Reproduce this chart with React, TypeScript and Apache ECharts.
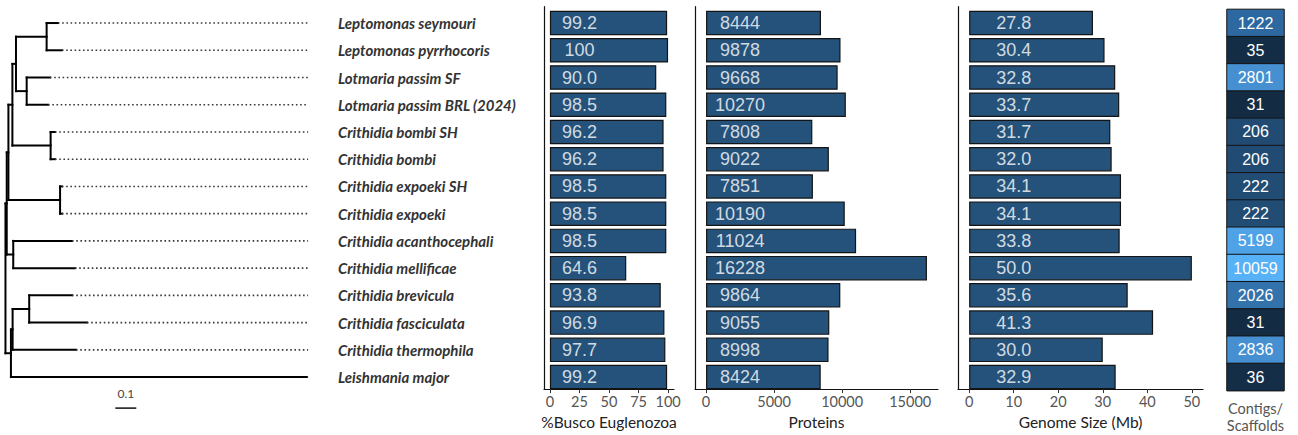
import React, { useEffect, useRef } from 'react';
import * as echarts from 'echarts';

// ---------- data ----------
const species = [
  'Leptomonas seymouri',
  'Leptomonas pyrrhocoris',
  'Lotmaria passim SF',
  'Lotmaria passim BRL (2024)',
  'Crithidia bombi SH',
  'Crithidia bombi',
  'Crithidia expoeki SH',
  'Crithidia expoeki',
  'Crithidia acanthocephali',
  'Crithidia mellificae',
  'Crithidia brevicula',
  'Crithidia fasciculata',
  'Crithidia thermophila',
  'Leishmania major',
];
const busco = [99.2, 100, 90.0, 98.5, 96.2, 96.2, 98.5, 98.5, 98.5, 64.6, 93.8, 96.9, 97.7, 99.2];
const proteins = [8444, 9878, 9668, 10270, 7808, 9022, 7851, 10190, 11024, 16228, 9864, 9055, 8998, 8424];
const genomeSize = [27.8, 30.4, 32.8, 33.7, 31.7, 32.0, 34.1, 34.1, 33.8, 50.0, 35.6, 41.3, 30.0, 32.9];
const contigs = [1222, 35, 2801, 31, 206, 206, 222, 222, 5199, 10059, 2026, 31, 2836, 36];

const buscoTicks = [0, 25, 50, 75, 100];
const proteinTicks = [0, 5000, 10000, 15000];
const genomeTicks = [0, 10, 20, 30, 40, 50];
const contigsLabel = 'Contigs/\nScaffolds';

// label anchor (x value where the in-bar numbers are centred)
const buscoLabelAt = 25;
const proteinLabelAt = 2500;
const genomeLabelAt = 10;

// colour scale for the contig tiles (position on log scale -> colour)
const contigColourStops: [number, string][] = [
  [0.0, '#132B43'],
  [0.33, '#214B72'],
  [0.64, '#2D69A0'],
  [0.73, '#3573AD'],
  [0.78, '#4690D2'],
  [0.89, '#4FA3E6'],
  [1.0, '#56B1F7'],
];

// phylogeny: tip depths (tip i sits on row i) and internal nodes [id, depth, childA, childB]
const tipDepth = [0.257, 0.276, 0.219, 0.210, 0.243, 0.243, 0.276, 0.276, 0.324, 0.338, 0.324, 0.395, 0.343, 1.443];
const treeNodes: [string, number, string, string][] = [
  ['A', 0.203, 't0', 't1'],
  ['B', 0.108, 't2', 't3'],
  ['C', 0.057, 'A', 'B'],
  ['D', 0.222, 't4', 't5'],
  ['E', 0.040, 'C', 'D'],
  ['F', 0.267, 't6', 't7'],
  ['G', 0.021, 'E', 'F'],
  ['H', 0.044, 't8', 't9'],
  ['I', 0.013, 'G', 'H'],
  ['J', 0.120, 't10', 't11'],
  ['K', 0.041, 'J', 't12'],
  ['L', 0.033, 'K', 't13'],
  ['root', 0.007, 'I', 'L'],
];
const tipLineEnd = 1.448;
const scaleBar = { start: 0.53, length: 0.1, label: '0.1' };

// ---------- helpers ----------
const ROW_MIN = -0.6;
const ROW_MAX = 13.6;
const AX_TOP = 6.7;
const AX_H = 386.7;
const ROW_PX = AX_H / (ROW_MAX - ROW_MIN);
const BAR_TOP = AX_TOP + (-0.5 - ROW_MIN) * ROW_PX;
const BAR_H = species.length * ROW_PX;

function hexToRgb(h: string) {
  const n = parseInt(h.slice(1), 16);
  return [(n >> 16) & 255, (n >> 8) & 255, n & 255];
}
function buildPalette(stops: [number, string][], n: number) {
  const out: string[] = [];
  for (let k = 0; k < n; k++) {
    const t = k / (n - 1);
    let j = 0;
    while (j < stops.length - 2 && t > stops[j + 1][0]) j++;
    const [t0, c0] = stops[j];
    const [t1, c1] = stops[j + 1];
    const f = Math.min(1, Math.max(0, (t - t0) / (t1 - t0)));
    const a = hexToRgb(c0);
    const b = hexToRgb(c1);
    const c = a.map((v, i) => Math.round(v + (b[i] - v) * f));
    out.push(`rgb(${c[0]},${c[1]},${c[2]})`);
  }
  return out;
}

function buildTreeSegments() {
  const pos: Record<string, { x: number; y: number }> = {};
  tipDepth.forEach((d, i) => (pos['t' + i] = { x: d, y: i }));
  const segs: number[][] = [];
  treeNodes.forEach(([id, depth, a, b]) => {
    const ca = pos[a];
    const cb = pos[b];
    pos[id] = { x: depth, y: (ca.y + cb.y) / 2 };
    segs.push([depth, ca.y, depth, cb.y, 0]);
    segs.push([depth, ca.y, ca.x, ca.y, 0]);
    segs.push([depth, cb.y, cb.x, cb.y, 0]);
  });
  tipDepth.forEach((d, i) => {
    if (d < tipLineEnd) segs.push([d, i, tipLineEnd, i, 1]);
  });
  return segs;
}

const FONT = 'Lato';

function panel(axesGrid: number, barGrid: number, min: number, max: number, ticks: number[], name: string) {
  return [
    {
      type: 'value',
      gridIndex: axesGrid,
      min,
      max,
      axisLine: { show: true, onZero: false, lineStyle: { color: '#111', width: 1.2 } },
      axisTick: { show: true, length: 4, customValues: ticks, lineStyle: { color: '#333', width: 1 } },
      axisLabel: {
        customValues: ticks,
        color: '#555',
        fontFamily: FONT,
        fontSize: 14.5,
        margin: 5,
        formatter: (v: number) => String(v),
      },
      splitLine: { show: false },
      name,
      nameLocation: 'middle',
      nameGap: 24,
      nameTextStyle: { color: '#222', fontFamily: FONT, fontSize: 15.5 },
    },
    { type: 'value', gridIndex: barGrid, min, max, show: false, splitLine: { show: false } },
  ];
}

export default function App() {
  const ref = useRef<HTMLDivElement>(null);
  useEffect(() => {
    document.body.style.margin = '0';
    if (!ref.current) return;
    const chart = echarts.init(ref.current, null, { renderer: 'svg' });

    const grids = [
      { left: 4, top: AX_TOP, width: 315, height: AX_H }, // 0 tree
      { left: 544, top: AX_TOP, width: 130, height: AX_H }, // 1 busco axes
      { left: 544, top: BAR_TOP, width: 130, height: BAR_H }, // 2 busco bars
      { left: 695, top: AX_TOP, width: 243, height: AX_H }, // 3 prot axes
      { left: 695, top: BAR_TOP, width: 243, height: BAR_H }, // 4 prot bars
      { left: 958, top: AX_TOP, width: 245, height: AX_H }, // 5 genome axes
      { left: 958, top: BAR_TOP, width: 245, height: BAR_H }, // 6 genome bars
      { left: 1227, top: BAR_TOP, width: 57, height: BAR_H }, // 7 heatmap
    ];

    const buscoMax = Math.max(...buscoTicks, ...busco);
    const protMax = Math.max(...proteins);
    const genMax = Math.max(...genomeSize);

    const xAxis: any[] = [
      { type: 'value', gridIndex: 0, min: 0, max: 1.5, show: false, splitLine: { show: false } },
      ...panel(1, 2, -0.05 * buscoMax, 1.05 * buscoMax, buscoTicks, '%Busco Euglenozoa'),
      ...panel(3, 4, -0.05 * protMax, 1.05 * protMax, proteinTicks, 'Proteins'),
      ...panel(5, 6, -0.05 * genMax, 1.05 * genMax, genomeTicks, 'Genome Size (Mb)'),
      {
        type: 'category',
        gridIndex: 7,
        data: [contigsLabel],
        axisLine: { show: false },
        axisTick: { show: false },
        axisLabel: { color: '#555', fontFamily: FONT, fontSize: 14.5, lineHeight: 17, margin: 9 },
      },
    ];

    const axesY = (g: number) => ({
      type: 'value',
      gridIndex: g,
      min: ROW_MIN,
      max: ROW_MAX,
      inverse: true,
      axisLine: { show: true, onZero: false, lineStyle: { color: '#111', width: 1.2 } },
      axisTick: { show: false },
      axisLabel: { show: false },
      splitLine: { show: false },
    });
    const barY = (g: number, labels: boolean) => ({
      type: 'category',
      gridIndex: g,
      data: species,
      inverse: true,
      axisLine: { show: false },
      axisTick: { show: false },
      axisLabel: labels
        ? {
            show: true,
            align: 'left',
            margin: 206,
            color: '#333',
            fontFamily: FONT,
            fontStyle: 'italic',
            fontWeight: 'bold',
            fontSize: 15,
          }
        : { show: false },
      splitLine: { show: false },
    });

    const yAxis: any[] = [
      { type: 'value', gridIndex: 0, min: ROW_MIN, max: ROW_MAX, inverse: true, show: false, splitLine: { show: false } },
      axesY(1),
      barY(2, true),
      axesY(3),
      barY(4, false),
      axesY(5),
      barY(6, false),
      {
        type: 'category',
        gridIndex: 7,
        data: species,
        inverse: true,
        axisLine: { show: false },
        axisTick: { show: false },
        axisLabel: { show: false },
      },
    ];

    const barStyle = { color: '#25527A', borderColor: '#141414', borderWidth: 1.2 };
    const barSeries = (axisIdx: number, values: number[]) => ({
      type: 'bar',
      xAxisIndex: axisIdx,
      yAxisIndex: axisIdx,
      data: values,
      barCategoryGap: '10%',
      itemStyle: barStyle,
      silent: true,
    });
    const labelSeries = (axisIdx: number, values: number[], at: number, fmt: (v: number) => string) => ({
      type: 'scatter',
      xAxisIndex: axisIdx,
      yAxisIndex: axisIdx,
      symbolSize: 0,
      z: 5,
      silent: true,
      data: values.map((v, i) => [at, i, v]),
      label: {
        show: true,
        position: 'inside',
        formatter: (p: any) => fmt(p.value[2]),
        color: '#fff',
        fontFamily: 'Liberation Sans',
        fontSize: 18,
      },
    });

    const treeSegs = buildTreeSegments();

    const series: any[] = [
      {
        type: 'custom',
        xAxisIndex: 0,
        yAxisIndex: 0,
        silent: true,
        data: treeSegs,
        encode: { x: [0, 2], y: [1, 3] },
        renderItem: (_p: any, api: any) => {
          const a = api.coord([api.value(0), api.value(1)]);
          const b = api.coord([api.value(2), api.value(3)]);
          const dotted = api.value(4) === 1;
          return {
            type: 'line',
            shape: { x1: a[0], y1: a[1], x2: b[0], y2: b[1] },
            style: dotted
              ? { stroke: '#3a3a3a', lineWidth: 1.6, lineDash: [1.6, 2.6], lineCap: 'butt' }
              : { stroke: '#000', lineWidth: 2, lineCap: 'square' },
          };
        },
      },
      {
        type: 'custom',
        xAxisIndex: 0,
        yAxisIndex: 0,
        silent: true,
        data: [[scaleBar.start, 14.14, scaleBar.start + scaleBar.length, 13.59]],
        encode: { x: [0, 2], y: [1, 3] },
        renderItem: (_p: any, api: any) => {
          const a = api.coord([api.value(0), api.value(1)]);
          const b = api.coord([api.value(2), api.value(1)]);
          const t = api.coord([(api.value(0) + api.value(2)) / 2, api.value(3)]);
          return {
            type: 'group',
            children: [
              { type: 'line', shape: { x1: a[0], y1: a[1], x2: b[0], y2: b[1] }, style: { stroke: '#111', lineWidth: 1.5 } },
              {
                type: 'text',
                x: t[0],
                y: t[1],
                style: { text: scaleBar.label, fill: '#444', fontSize: 12, fontFamily: FONT, align: 'center', verticalAlign: 'middle' },
              },
            ],
          };
        },
      },
      barSeries(2, busco),
      labelSeries(2, busco, buscoLabelAt, (v) => (v >= 100 ? String(v) : v.toFixed(1))),
      barSeries(4, proteins),
      labelSeries(4, proteins, proteinLabelAt, (v) => String(v)),
      barSeries(6, genomeSize),
      labelSeries(6, genomeSize, genomeLabelAt, (v) => v.toFixed(1)),
      {
        type: 'heatmap',
        xAxisIndex: 7,
        yAxisIndex: 7,
        silent: true,
        data: contigs.map((v, i) => [0, i, Math.log10(v)]),
        itemStyle: { borderColor: '#151515', borderWidth: 1 },
        label: {
          show: true,
          formatter: (p: any) => String(contigs[p.dataIndex]),
          color: '#fff',
          fontFamily: 'Liberation Sans',
          fontSize: 16,
        },
      },
    ];

    chart.setOption({
      animation: false,
      grid: grids,
      xAxis,
      yAxis,
      visualMap: {
        type: 'continuous',
        show: false,
        seriesIndex: series.length - 1,
        dimension: 2,
        min: Math.log10(Math.min(...contigs)),
        max: Math.log10(Math.max(...contigs)),
        inRange: { color: buildPalette(contigColourStops, 101) },
      },
      series,
    });
    return () => chart.dispose();
  }, []);
  return <div ref={ref} style={{ width: 1298, height: 435 }} />;
}
